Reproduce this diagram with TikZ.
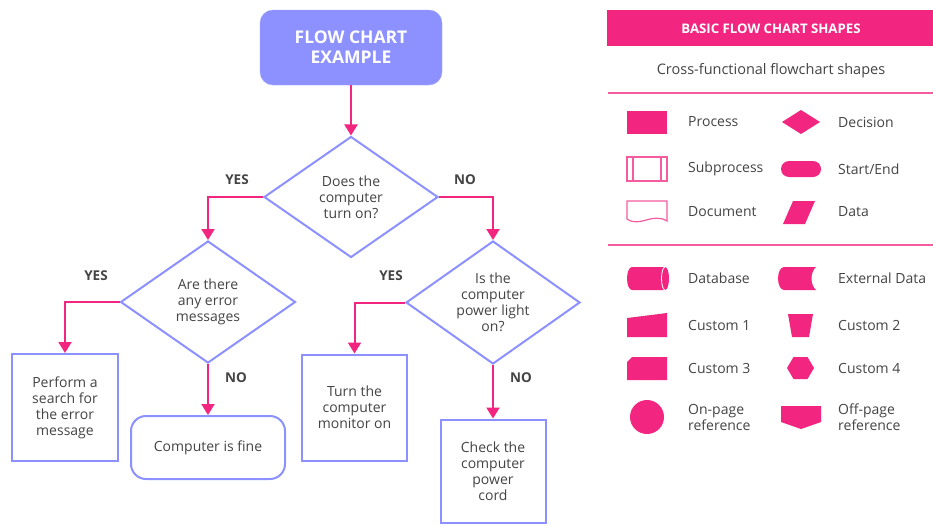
\documentclass[tikz,border=0pt]{standalone}
\usepackage{fontspec}
\setmainfont{Open Sans}
\usepackage{xcolor}
\usepackage{tikz}
\usetikzlibrary{arrows.meta,shapes.geometric}
\definecolor{fcpink}{RGB}{242,38,128}
\definecolor{fcblue}{RGB}{140,145,255}
\definecolor{fctext}{RGB}{68,68,68}

\begin{document}
\begin{tikzpicture}[x=1pt,y=-1pt,font=\fontsize{14}{16}\selectfont,text=fctext,
  >={Triangle[width=13pt,length=11pt]},
  decision/.style={diamond,draw=fcblue,line width=2pt,inner sep=-4pt,align=center,
    minimum width=174pt,minimum height=121pt},
  procbox/.style={rectangle,draw=fcblue,line width=2pt,align=center,inner sep=2pt,
    minimum width=105pt,minimum height=106pt},
  conn/.style={->,draw=fcpink,line width=2pt},
  answer/.style={font=\fontsize{13.5}{15}\selectfont\bfseries},
  legtext/.style={anchor=west,align=left,inner sep=0pt},
  icon/.style={fill=fcpink},
  outline/.style={draw=fcpink!75,line width=1.2pt}]
\useasboundingbox (0,0) rectangle (933,525);
\fill[white] (0,0) rectangle (933,525);

% flow chart
\node[rectangle,rounded corners=13pt,fill=fcblue,draw=fcblue!80,minimum width=182pt,
  minimum height=75pt,align=center,text=white,
  font=\fontsize{17.5}{20}\selectfont\bfseries] (title) at (351,47.5) {FLOW CHART\\EXAMPLE};
\node[decision] (q1) at (351,197) {Does the\\computer\\turn on?};
\node[decision,minimum width=175pt,minimum height=122pt] (q2) at (208,302) {Are there\\any error\\messages};
\node[decision,minimum width=174pt,minimum height=123pt] (q3) at (493,302.5) {Is the\\computer\\power light\\on?};
\node[procbox,minimum width=106pt,minimum height=107pt] (search) at (65,407.5) {Perform a\\search for\\the error\\message};
\node[procbox,rounded corners=15pt,minimum width=154pt,minimum height=63pt] (fine) at (208,447.5) {Computer is fine};
\node[procbox] (monitor) at (354.5,407.5) {Turn the\\computer\\monitor on};
\node[procbox,minimum height=103pt] (cord) at (493,471) {Check the\\computer\\power\\cord};

\node[answer] (y1) at (237,180) {YES};
\node[answer] (n1) at (465,180) {NO};
\node[answer] (y2) at (96,276) {YES};
\node[answer] (n2) at (236,378) {NO};
\node[answer] (y3) at (391,276) {YES};
\node[answer] (n3) at (521,378) {NO};

\draw[conn] (title) -- (q1);
\draw[conn] (q1.west) -| (q2.north);
\draw[conn] (q1.east) -| (q3.north);
\draw[conn] (q2.west) -| (search.north);
\draw[conn] (q2.south) -- (fine.north);
\draw[conn] (q3.west) -| (monitor.north);
\draw[conn] (q3.south) -- (cord.north);

% legend
\fill[fcpink] (607,10) rectangle (933,46);
\node[text=white,font=\fontsize{13.2}{15}\selectfont\bfseries] (head) at (771,29) {BASIC FLOW CHART SHAPES};
\node[font=\fontsize{14.5}{16}\selectfont] (sub) at (771,71) {Cross-functional flowchart shapes};
\draw[fcpink!75,line width=1.5pt] (608,93) -- (933,93);
\draw[fcpink!75,line width=1.5pt] (608,245) -- (933,245);

\fill[icon] (627,111) rectangle (667,134);
\fill[icon] (782,122) -- (801,110) -- (820,122) -- (801,134) -- cycle;
\draw[outline] (627,157) rectangle (667,181) (633,157) -- (633,181) (661,157) -- (661,181);
\fill[icon,rounded corners=8pt] (781,161) rectangle (821,177);
\draw[outline] (627,219) -- (627,201) -- (667,201) -- (667,221)
  .. controls (652,212) and (640,228) .. (627,219);
\fill[icon] (793,201) -- (815,201) -- (805,224) -- (783,224) -- cycle;

\fill[icon] (632,267) -- (665,267) arc[start angle=-90,end angle=90,x radius=4,y radius=11.5]
  -- (632,290) arc[start angle=90,end angle=270,x radius=5,y radius=11.5] -- cycle;
\draw[white,line width=0.8pt] (665,267) arc[start angle=270,end angle=90,x radius=3.5,y radius=11.5];
\fill[icon] (784,267) -- (816,267) .. controls (810,272) and (810,285) .. (816,290)
  -- (784,290) arc[start angle=90,end angle=270,x radius=6,y radius=11.5] -- cycle;
\fill[icon] (627,318) -- (667,313) -- (667,337) -- (627,337) -- cycle;
\fill[icon] (788,314) -- (813,314) -- (809,337) -- (792,337) -- cycle;
\fill[icon] (632,357) -- (667,357) -- (667,380) -- (627,380) -- (627,362) -- cycle;
\fill[icon] (787,368) -- (793.5,357) -- (807.5,357) -- (814,368) -- (807.5,379) -- (793.5,379) -- cycle;
\fill[icon] (647,417) circle[radius=17];
\fill[icon] (781,406) -- (821,406) -- (821,422) -- (801,429) -- (781,422) -- cycle;

\node[legtext] (lproc) at (688,122) {Process};
\node[legtext] (ldec) at (838,122) {Decision};
\node[legtext] (lsub) at (688,169) {Subprocess};
\node[legtext] (lend) at (838,169) {Start/End};
\node[legtext] (ldoc) at (688,212) {Document};
\node[legtext] (ldata) at (838,212) {Data};
\node[legtext] (ldb) at (688,278) {Database};
\node[legtext] (lext) at (838,278) {External Data};
\node[legtext] (lc1) at (688,325) {Custom 1};
\node[legtext] (lc2) at (838,325) {Custom 2};
\node[legtext] (lc3) at (688,368) {Custom 3};
\node[legtext] (lc4) at (838,368) {Custom 4};
\node[legtext] (lon) at (688,417) {On-page\\reference};
\node[legtext] (loff) at (838,417) {Off-page\\reference};
\end{tikzpicture}
\end{document}
